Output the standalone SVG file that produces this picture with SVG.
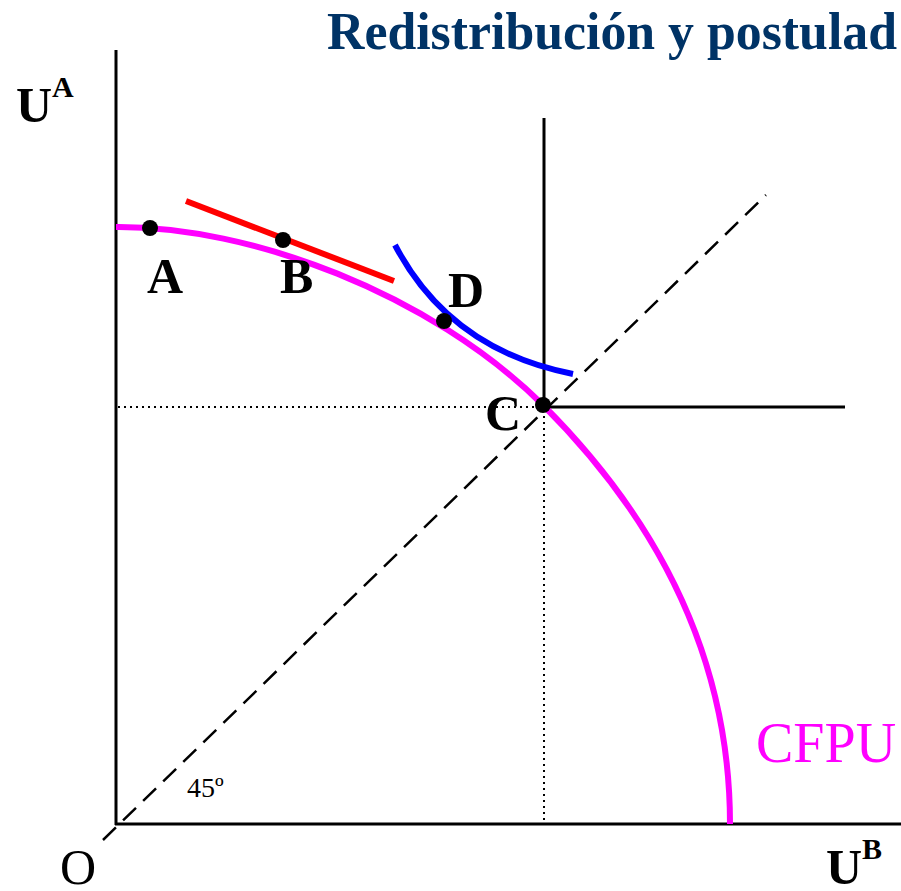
<svg xmlns="http://www.w3.org/2000/svg" width="901" height="891" viewBox="0 0 901 891">
<style>
.ax{stroke:#000;stroke-width:3;fill:none}
.dot{stroke:#000;stroke-width:2;stroke-dasharray:2 4;fill:none}
.pt{fill:#000}
.lbl{font-family:"Liberation Serif",serif;font-weight:bold;font-size:50px;fill:#000}
</style>
<rect width="901" height="891" fill="#fff"/>
<text x="327" y="49" font-family="Liberation Serif,serif" font-weight="bold" font-size="52" fill="#003366" textLength="570" lengthAdjust="spacingAndGlyphs">Redistribución y postulad</text>
<g id="axes">
<line class="ax" x1="116" y1="50" x2="116" y2="825"/>
<line class="ax" x1="115" y1="824" x2="901" y2="824"/>
</g>
<g id="connectors">
<line x1="103" y1="840" x2="766" y2="195" stroke="#000" stroke-width="2.5" stroke-dasharray="18 10"/>
<line class="ax" x1="544" y1="118" x2="544" y2="406"/>
<line class="ax" x1="543" y1="407" x2="845" y2="407"/>
<line class="dot" x1="118" y1="407" x2="540" y2="407"/>
<line class="dot" x1="544" y1="410" x2="544" y2="824"/>
<path id="cfpu" d="M116,227 C250,226 430,293 543,405 C650,512 730,650 730,824" stroke="#ff00ff" stroke-width="6" fill="none"/>
<line id="tangent" x1="186" y1="201" x2="394" y2="281" stroke="#ff0000" stroke-width="6"/>
<path id="indiff" d="M395,245 Q450,350 573,374" stroke="#0000ff" stroke-width="6" fill="none"/>
</g>
<g id="pA"><circle class="pt" cx="150" cy="228" r="8"/><text class="lbl" x="147" y="293">A</text></g>
<g id="pB"><circle class="pt" cx="283" cy="240" r="8"/><text class="lbl" x="280" y="293">B</text></g>
<g id="pD"><circle class="pt" cx="444" cy="321" r="8"/><text class="lbl" x="448" y="307">D</text></g>
<g id="pC"><circle class="pt" cx="543" cy="405" r="8"/><text class="lbl" x="485" y="430">C</text></g>
<g id="labels">
<text class="lbl" x="16" y="122">U<tspan font-size="30" dy="-25">A</tspan></text>
<text x="826" y="884" class="lbl">U<tspan font-size="30" dy="-25">B</tspan></text>
<text x="60" y="884" font-family="Liberation Serif,serif" font-size="50" fill="#000">O</text>
<text x="187" y="797" font-family="Liberation Serif,serif" font-size="28" fill="#000">45º</text>
<text x="756" y="762" font-family="Liberation Serif,serif" font-size="56" fill="#ff00ff">CFPU</text>
</g>
</svg>
